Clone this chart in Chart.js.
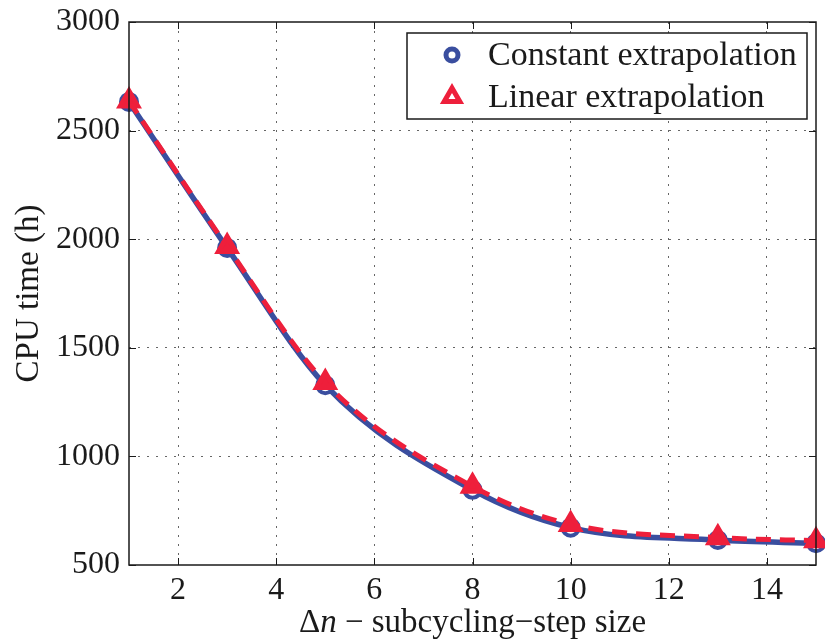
<!DOCTYPE html>
<html>
<head>
<meta charset="utf-8">
<script src="https://cdn.jsdelivr.net/npm/chart.js@4.4.1/dist/chart.umd.min.js"></script>
<style>
  html, body { margin: 0; padding: 0; background: #fff; }
  #wrap { width: 825px; height: 641px; }
</style>
</head>
<body>
<div id="wrap"><canvas id="cpuChart" width="825" height="641"></canvas></div>
<script>
const stepSizes = [1, 3, 5, 8, 10, 13, 15];
const constantTimes = [2632, 1960, 1328, 846, 672, 615, 600];
const linearTimes = [2636, 1966, 1340, 862, 687, 626, 612];
const xTicks = [2, 4, 6, 8, 10, 12, 14];
const yTicks = [500, 1000, 1500, 2000, 2500, 3000];

const blue = '#3a4e9f';
const red = '#ee1f3b';
const ink = '#1a1a1a';
const serif = '"Liberation Serif", "DejaVu Serif", serif';

function toPoints(values) {
    return stepSizes.map((x, i) => ({ x: x, y: values[i] }));
}

// box round the plot, inward tick marks, axis titles and the legend
const framePlugin = {
    id: 'frame',
    afterDraw(chart) {
        const ctx = chart.ctx;
        const a = chart.chartArea;
        const xs = chart.scales.x, ys = chart.scales.y;
        ctx.save();
        ctx.strokeStyle = ink;
        ctx.lineWidth = 1.5;
        ctx.strokeRect(a.left, a.top, a.right - a.left, a.bottom - a.top);
        ctx.lineWidth = 1;
        const len = 7;
        ctx.beginPath();
        xTicks.forEach(t => {
            const px = Math.round(xs.getPixelForValue(t)) + 0.5;
            ctx.moveTo(px, a.bottom); ctx.lineTo(px, a.bottom - len);
            ctx.moveTo(px, a.top); ctx.lineTo(px, a.top + len);
        });
        yTicks.forEach(t => {
            const py = Math.round(ys.getPixelForValue(t)) + 0.5;
            ctx.moveTo(a.left, py); ctx.lineTo(a.left + len, py);
            ctx.moveTo(a.right, py); ctx.lineTo(a.right - len, py);
        });
        ctx.stroke();

        // x title with italic n
        ctx.fillStyle = ink;
        ctx.textBaseline = 'alphabetic';
        const parts = [
            { t: 'Δ', f: '33px ' + serif },
            { t: 'n', f: 'italic 33px ' + serif },
            { t: ' − subcycling−step size', f: '33px ' + serif }
        ];
        let total = 0;
        parts.forEach(p => { ctx.font = p.f; p.w = ctx.measureText(p.t).width; total += p.w; });
        let tx = (a.left + a.right) / 2 - total / 2;
        parts.forEach(p => { ctx.font = p.f; ctx.fillText(p.t, tx, 632); tx += p.w; });

        // y title
        ctx.save();
        ctx.translate(38, (a.top + a.bottom) / 2);
        ctx.rotate(-Math.PI / 2);
        ctx.font = '33px ' + serif;
        ctx.textAlign = 'center';
        ctx.fillText('CPU time (h)', 0, 0);
        ctx.restore();

        // legend
        const bx = 407, by = 33, bw = 400, bh = 86;
        ctx.fillStyle = '#fff';
        ctx.fillRect(bx, by, bw, bh);
        ctx.strokeStyle = ink;
        ctx.lineWidth = 1.5;
        ctx.strokeRect(bx, by, bw, bh);
        ctx.font = '34px ' + serif;
        ctx.textBaseline = 'middle';
        chart.data.datasets.forEach((ds, i) => {
            const cy = by + 22 + i * 42;
            ctx.fillStyle = '#fff';
            ctx.strokeStyle = ds.borderColor;
            ctx.lineWidth = 5;
            ctx.setLineDash([]);
            Chart.helpers.drawPoint(ctx, {
                pointStyle: ds.pointStyle,
                radius: ds.pointStyle === 'circle' ? 6 : 9,
                borderWidth: 5,
                rotation: 0
            }, 452, cy);
            ctx.fillStyle = ink;
            ctx.fillText(ds.label, 488, cy + 1);
        });
        ctx.restore();
    }
};

const ctx = document.getElementById('cpuChart').getContext('2d');
new Chart(ctx, {
    type: 'line',
    data: {
        datasets: [
            {
                label: 'Constant extrapolation',
                data: toPoints(constantTimes),
                borderColor: blue,
                backgroundColor: '#fff',
                borderWidth: 5.5,
                pointStyle: 'circle',
                pointRadius: 8,
                pointBorderWidth: 4,
                pointBackgroundColor: '#fff',
                cubicInterpolationMode: 'monotone',
                order: 2
            },
            {
                label: 'Linear extrapolation',
                data: toPoints(linearTimes),
                borderColor: red,
                backgroundColor: '#fff',
                borderWidth: 5,
                borderDash: [15, 9],
                pointStyle: 'triangle',
                pointRadius: 10,
                pointBorderWidth: 5,
                pointBackgroundColor: red,
                cubicInterpolationMode: 'monotone',
                order: 1
            }
        ]
    },
    options: {
        responsive: false,
        animation: false,
        clip: false,
        layout: { autoPadding: false, padding: { top: 22, right: 9, left: 0, bottom: 0 } },
        plugins: {
            legend: { display: false },
            tooltip: { enabled: false }
        },
        scales: {
            x: {
                type: 'linear',
                min: 1,
                max: 15,
                afterBuildTicks: axis => { axis.ticks = xTicks.map(v => ({ value: v })); },
                afterFit: axis => {
                    axis.height = 76;
                    axis.paddingLeft = 0;
                    axis.paddingRight = 0;
                },
                border: { display: false, dash: [2, 7] },
                grid: {
                    color: '#666',
                    lineWidth: 1,
                    drawTicks: false
                },
                ticks: {
                    color: ink,
                    font: { family: serif, size: 32 },
                    padding: 6,
                    maxRotation: 0,
                    callback: v => String(v)
                },
                title: { display: false }
            },
            y: {
                type: 'linear',
                min: 500,
                max: 3000,
                afterBuildTicks: axis => { axis.ticks = yTicks.map(v => ({ value: v })); },
                afterFit: axis => {
                    axis.width = 129;
                    axis.paddingTop = 0;
                    axis.paddingBottom = 0;
                },
                border: { display: false, dash: [2, 7] },
                grid: {
                    color: c => (c.tick && (c.tick.value === 500 || c.tick.value === 3000)) ? 'rgba(0,0,0,0)' : '#666',
                    lineWidth: 1,
                    drawTicks: false
                },
                ticks: {
                    color: ink,
                    font: { family: serif, size: 32 },
                    padding: 9,
                    callback: v => String(v)
                },
                title: { display: false }
            }
        }
    },
    plugins: [framePlugin]
});
</script>
</body>
</html>
